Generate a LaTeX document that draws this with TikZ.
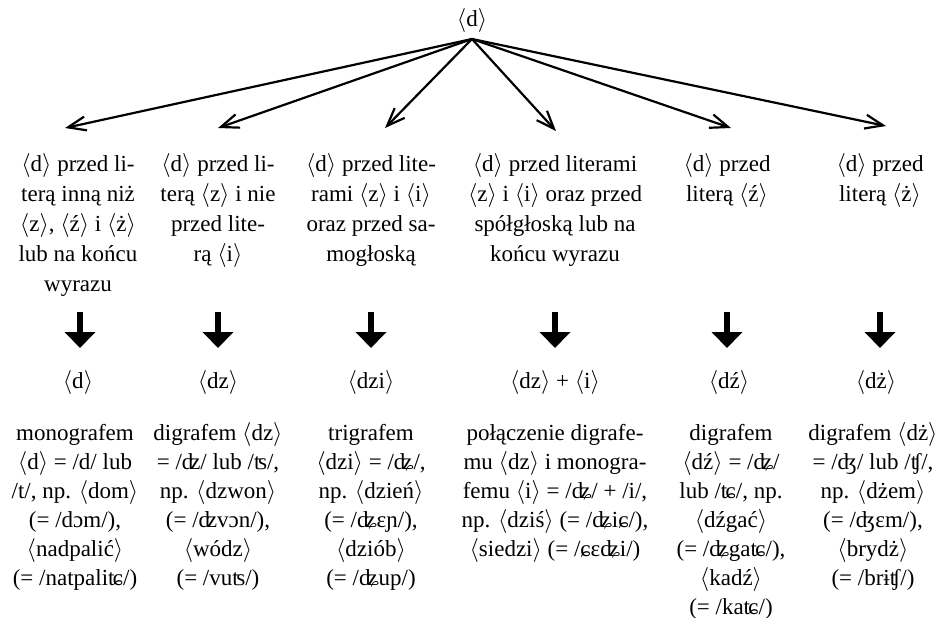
\documentclass[tikz,border=0pt]{standalone}
\usepackage{fontspec}
\setmainfont{Liberation Serif}
\usetikzlibrary{arrows.meta}
\newcommand\la{\ensuremath{\langle}}
\newcommand\ra{\ensuremath{\rangle}}
\newcommand\cell[1]{\begin{tabular}[t]{@{}c@{}}#1\end{tabular}}
\begin{document}
\begin{tikzpicture}[x=0.5pt,y=-0.5pt,
  lbl/.style={inner sep=0pt, anchor=base, font=\fontsize{11.5}{14.5}\selectfont},
  lblwide/.style={lbl, font=\fontsize{11.5}{15}\selectfont},
  fanarrow/.style={-{Straight Barb[length=9pt,width=7pt,line width=1.1pt]}, line width=1.1pt},
  downarrow/.style={-{Triangle[length=8pt,width=15pt]}, line width=2.6pt}]
\useasboundingbox (0,0) rectangle (944,617);

\node[lbl] (top) at (472,26) {\la d\ra};
\coordinate (o) at (472,39);

% row 1
\node[lblwide] (a1) at (78,171) {\cell{\la d\ra{} przed li-\\terą inną niż\\\la z\ra, \la ź\ra{} i \la ż\ra\\lub na końcu\\wyrazu}};
\node[lblwide] (a2) at (218,171) {\cell{\la d\ra{} przed li-\\terą \la z\ra{} i nie\\przed lite-\\rą \la i\ra}};
\node[lblwide] (a3) at (371,171) {\cell{\la d\ra{} przed lite-\\rami \la z\ra{} i \la i\ra\\oraz przed sa-\\mogłoską}};
\node[lblwide] (a4) at (555,171) {\cell{\la d\ra{} przed literami\\\la z\ra{} i \la i\ra{} oraz przed\\spółgłoską lub na\\końcu wyrazu}};
\node[lblwide] (a5) at (727,171) {\cell{\la d\ra{} przed\\literą \la ź\ra}};
\node[lblwide] (a6) at (880,171) {\cell{\la d\ra{} przed\\literą \la ż\ra}};

% row 2
\node[lbl] (b1) at (78,388) {\la d\ra};
\node[lbl] (b2) at (218,388) {\la dz\ra};
\node[lbl] (b3) at (371,388) {\la dzi\ra};
\node[lbl] (b4) at (555,388) {\la dz\ra{} + \la i\ra};
\node[lbl] (b5) at (729,388) {\la dź\ra};
\node[lbl] (b6) at (876,388) {\la dż\ra};

% row 3
\node[lbl] (c1) at (75,440) {\cell{monografem\\\la d\ra{} = /d/ lub\\/t/, np. \la dom\ra\\(= /dɔm/),\\\la nadpalić\ra\\(= /natpaliʨ/)}};
\node[lbl] (c2) at (218,440) {\cell{digrafem \la dz\ra\\= /ʣ/ lub /ʦ/,\\np. \la dzwon\ra\\(= /ʣvɔn/),\\\la wódz\ra\\(= /vuʦ/)}};
\node[lbl] (c3) at (371,440) {\cell{trigrafem\\\la dzi\ra{} = /ʥ/,\\np. \la dzień\ra\\(= /ʥɛɲ/),\\\la dziób\ra\\(= /ʥup/)}};
\node[lbl] (c4) at (555,440) {\cell{połączenie digrafe-\\mu \la dz\ra{} i monogra-\\femu \la i\ra{} = /ʥ/ + /i/,\\np. \la dziś\ra{} (= /ʥiɕ/),\\\la siedzi\ra{} (= /ɕɛʥi/)}};
\node[lbl] (c5) at (731,440) {\cell{digrafem\\\la dź\ra{} = /ʥ/\\lub /ʨ/, np.\\\la dźgać\ra\\(= /ʥgaʨ/),\\\la kadź\ra\\(= /kaʨ/)}};
\node[lbl] (c6) at (873,440) {\cell{digrafem \la dż\ra\\= /ʤ/ lub /ʧ/,\\np. \la dżem\ra\\(= /ʤɛm/),\\\la brydż\ra\\(= /brɨʧ/)}};

% fan arrows
\coordinate (t1) at (65,128);
\coordinate (t2) at (218,128);
\coordinate (t3) at (385,128);
\coordinate (t4) at (556,131);
\coordinate (t5) at (731,128);
\coordinate (t6) at (886,126);
\foreach \i in {1,...,6} \draw[fanarrow] (o) -- (t\i);

% thick down arrows
\foreach \i/\x in {1/80,2/218,3/371,4/555,5/727,6/880} {
  \coordinate (u\i) at (\x,312);
  \coordinate (d\i) at (\x,348);
  \draw[downarrow] (u\i) -- (d\i);
}
\end{tikzpicture}
\end{document}
